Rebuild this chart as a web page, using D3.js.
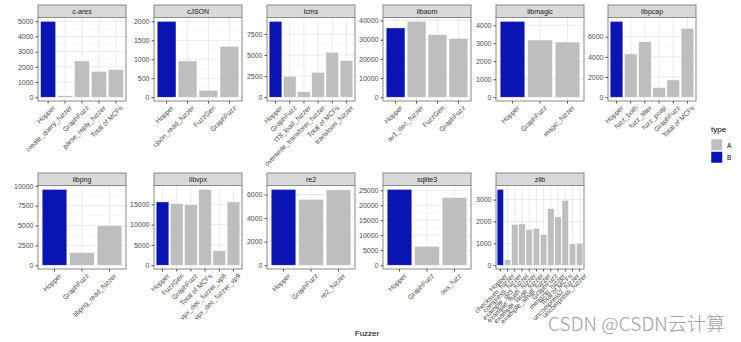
<!DOCTYPE html>
<html>
<head>
<meta charset="utf-8">
<script src="https://cdn.jsdelivr.net/npm/d3@7"></script>
<style>
  body { margin: 0; background: #fff; }
  svg { font-family: "Liberation Sans", Arial, sans-serif; }
</style>
</head>
<body>
<svg width="741" height="342"></svg>
<script>
// one facet per target program
var facets = ['c-ares', 'cJSON', 'lcms', 'libaom', 'libmagic', 'libpcap',
              'libpng', 'libvpx', 're2', 'sqlite3', 'zlib'];

var fuzzers = [
  ['Hopper', 'create_query_fuzzer', 'GraphFuzz', 'parse_reply_fuzzer', 'Total of MCFs'],
  ['Hopper', 'cjson_read_fuzzer', 'FuzzGen', 'GraphFuzz'],
  ['Hopper', 'GraphFuzz', 'IT8_load_fuzzer', 'overwrite_transform_fuzzer', 'Total of MCFs', 'transform_fuzzer'],
  ['Hopper', 'av1_dec_fuzzer', 'FuzzGen', 'GraphFuzz'],
  ['Hopper', 'GraphFuzz', 'magic_fuzzer'],
  ['Hopper', 'fuzz_both', 'fuzz_filter', 'fuzz_pcap', 'GraphFuzz', 'Total of MCFs'],
  ['Hopper', 'GraphFuzz', 'libpng_read_fuzzer'],
  ['Hopper', 'FuzzGen', 'GraphFuzz', 'Total of MCFs', 'vpx_dec_fuzzer_vp8', 'vpx_dec_fuzzer_vp9'],
  ['Hopper', 'GraphFuzz', 're2_fuzzer'],
  ['Hopper', 'GraphFuzz', 'oss_fuzz'],
  ['Hopper', 'checksum_fuzzer', 'compress_fuzzer', 'example_dict_fuzzer', 'example_flush_fuzzer',
   'example_large_fuzzer', 'example_small_fuzzer', 'GraphFuzz', 'minigzip_fuzzer', 'Total of MCFs',
   'uncompress2_fuzzer', 'uncompress_fuzzer']
];

var counts = [
  [5000, 100, 2390, 1710, 1820],
  [2000, 955, 184, 1342],
  [9000, 2490, 660, 2960, 5330, 4340],
  [36170, 39630, 32660, 30720],
  [4220, 3180, 3070],
  [7525, 4290, 5505, 950, 1715, 6830],
  [9570, 1600, 5000],
  [15610, 15200, 14950, 18720, 3550, 15610],
  [6440, 5590, 6390],
  [25330, 6330, 22570],
  [3470, 260, 1870, 1890, 1630, 1690, 1415, 2590, 2210, 2970, 975, 1005]
];

var yTicks = [
  [0, 1000, 2000, 3000, 4000, 5000],
  [0, 500, 1000, 1500, 2000],
  [0, 2500, 5000, 7500],
  [0, 10000, 20000, 30000, 40000],
  [0, 1000, 2000, 3000, 4000],
  [0, 2000, 4000, 6000],
  [0, 2500, 5000, 7500, 10000],
  [0, 5000, 10000, 15000],
  [0, 2000, 4000, 6000],
  [0, 5000, 10000, 15000, 20000, 25000],
  [0, 1000, 2000, 3000]
];

var types = ['A', 'B'];
var typeColor = d3.scaleOrdinal().domain(types).range(['#bebebe', '#0a14b2']);

// layout of the facet grid (6 columns)
var colLeft = [38, 154, 267, 383, 496, 608];
var panelW = 88;
var rowStripTop = [5, 173];
var stripH = 12.5;
var panelH = 83.5;

var svg = d3.select('svg');

facets.forEach(function(name, i) {
  var col = i % 6, row = Math.floor(i / 6);
  var x0 = colLeft[col];
  var top = rowStripTop[row] + stripH;
  var bottom = top + panelH;

  var cats = fuzzers[i];
  var vals = counts[i];
  var ymax = d3.max(vals);

  var x = d3.scaleBand()
    .domain(cats)
    .range([x0, x0 + panelW])
    .paddingInner(0.1)
    .paddingOuter(0.15);

  var y = d3.scaleLinear()
    .domain([-0.05 * ymax, 1.05 * ymax])
    .range([bottom, top]);

  var g = svg.append('g').attr('class', 'facet');

  g.append('rect')
    .attr('x', x0).attr('y', top)
    .attr('width', panelW).attr('height', panelH)
    .attr('fill', '#fff');

  // minor grid
  var ticks = yTicks[i];
  var step = ticks[1] - ticks[0];
  var minor = [];
  for (var t = ticks[0] - step / 2; t <= 1.05 * ymax; t += step) {
    if (t >= -0.05 * ymax) minor.push(t);
  }
  g.selectAll('line.minor')
    .data(minor)
    .enter()
    .append('line')
      .attr('x1', x0).attr('x2', x0 + panelW)
      .attr('y1', function(d) { return y(d); })
      .attr('y2', function(d) { return y(d); })
      .attr('stroke', '#f4f4f4')
      .attr('stroke-width', 0.6);

  // major grid
  g.selectAll('line.hmaj')
    .data(ticks)
    .enter()
    .append('line')
      .attr('x1', x0).attr('x2', x0 + panelW)
      .attr('y1', function(d) { return y(d); })
      .attr('y2', function(d) { return y(d); })
      .attr('stroke', '#ebebeb')
      .attr('stroke-width', 1);

  g.selectAll('line.vmaj')
    .data(cats)
    .enter()
    .append('line')
      .attr('x1', function(d) { return x(d) + x.bandwidth() / 2; })
      .attr('x2', function(d) { return x(d) + x.bandwidth() / 2; })
      .attr('y1', top).attr('y2', bottom)
      .attr('stroke', '#ebebeb')
      .attr('stroke-width', 1);

  // bars
  g.selectAll('rect.bar')
    .data(cats)
    .enter()
    .append('rect')
      .attr('class', 'bar')
      .attr('x', function(d) { return x(d); })
      .attr('width', x.bandwidth())
      .attr('y', function(d, j) { return y(vals[j]); })
      .attr('height', function(d, j) { return y(0) - y(vals[j]); })
      .attr('fill', function(d) {
        if (d == 'Hopper') {
          return typeColor('B');
        } else {
          return typeColor('A');
        }
      })
      .attr('stroke', '#ffffff')
      .attr('stroke-width', 0.5);

  // panel border
  g.append('rect')
    .attr('x', x0).attr('y', top)
    .attr('width', panelW).attr('height', panelH)
    .attr('fill', 'none')
    .attr('stroke', '#8a8a8a')
    .attr('stroke-width', 1);

  // strip
  g.append('rect')
    .attr('x', x0).attr('y', rowStripTop[row])
    .attr('width', panelW).attr('height', stripH)
    .attr('fill', '#d9d9d9')
    .attr('stroke', '#8a8a8a')
    .attr('stroke-width', 1);
  g.append('text')
    .attr('x', x0 + panelW / 2)
    .attr('y', rowStripTop[row] + stripH / 2 + 2.5)
    .attr('text-anchor', 'middle')
    .attr('font-size', 7)
    .attr('fill', '#1a1a1a')
    .text(name);

  // y axis
  var yAxis = d3.axisLeft(y).tickValues(ticks).tickSize(2.5).tickPadding(2).tickFormat(d3.format('d'));
  var ya = g.append('g')
    .attr('transform', 'translate(' + x0 + ',0)')
    .call(yAxis);
  ya.select('.domain').remove();
  ya.selectAll('line').attr('stroke', '#555');
  ya.selectAll('text').attr('font-size', 7).attr('fill', '#4d4d4d');

  // x axis
  var xAxis = d3.axisBottom(x).tickSize(2.5).tickPadding(1);
  var xa = g.append('g')
    .attr('transform', 'translate(0,' + bottom + ')')
    .call(xAxis);
  xa.select('.domain').remove();
  xa.selectAll('line').attr('stroke', '#555');
  xa.selectAll('text')
    .attr('font-size', 6.8)
    .attr('fill', '#4d4d4d')
    .attr('text-anchor', 'end')
    .attr('dy', '0.6em')
    .attr('transform', 'translate(2,2) rotate(-45)');
});

// axis title
svg.append('text')
  .attr('x', 367).attr('y', 336)
  .attr('text-anchor', 'middle')
  .attr('font-size', 8)
  .attr('fill', '#000')
  .text('Fuzzer');

// legend
var legend = svg.append('g').attr('class', 'legend');
legend.append('text')
  .attr('x', 711).attr('y', 132)
  .attr('font-size', 8)
  .attr('fill', '#000')
  .text('type');
legend.selectAll('rect')
  .data(types)
  .enter()
  .append('rect')
    .attr('x', 711)
    .attr('y', function(d, k) { return 139 + k * 12.5; })
    .attr('width', 11.5).attr('height', 11.5)
    .attr('fill', function(d) { return typeColor(d); })
    .attr('stroke', '#fff').attr('stroke-width', 0.5);
legend.selectAll('text.lab')
  .data(types)
  .enter()
  .append('text')
    .attr('class', 'lab')
    .attr('x', 727)
    .attr('y', function(d, k) { return 147.5 + k * 12.5; })
    .attr('font-size', 6.5)
    .attr('fill', '#000')
    .text(function(d) { return d; });

// watermark
svg.append('text')
  .attr('x', 548).attr('y', 331)
  .attr('font-family', '"Noto Sans CJK SC", "Noto Sans", sans-serif')
  .attr('font-size', 19)
  .attr('font-weight', 300)
  .attr('fill', '#a0a0a0')
  .attr('textLength', 177)
  .text('CSDN @CSDN云计算');
</script>
</body>
</html>
